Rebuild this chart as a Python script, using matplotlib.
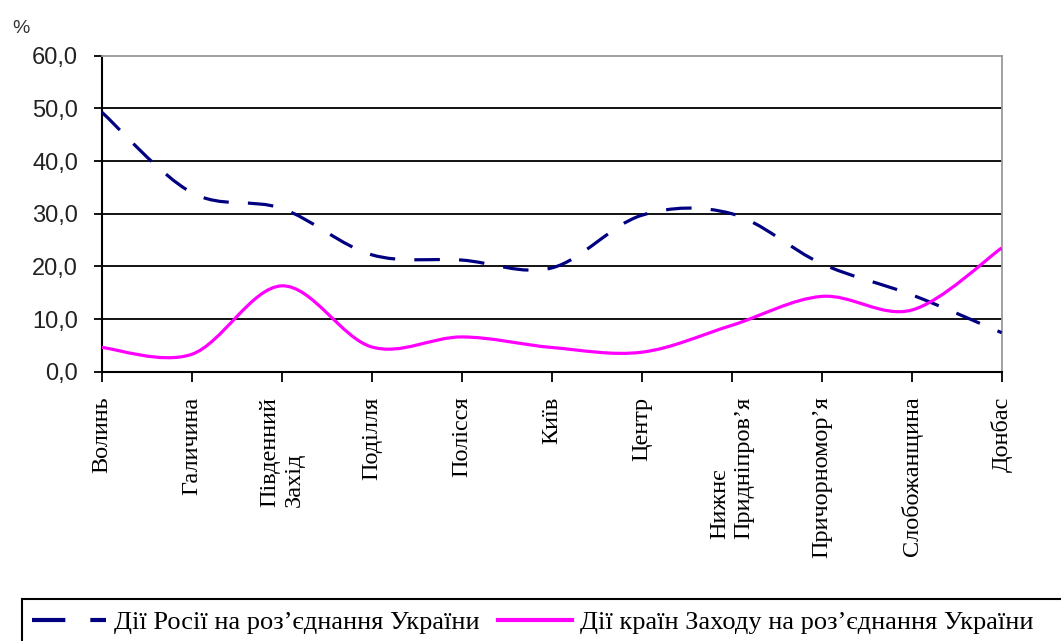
import matplotlib
matplotlib.use("Agg")
import matplotlib.pyplot as plt
import numpy as np
from matplotlib.path import Path
from matplotlib.patches import PathPatch, Rectangle
from matplotlib.lines import Line2D

regions = ["Волинь", "Галичина", "Південний\nЗахід", "Поділля", "Полісся", "Київ",
           "Центр", "Нижнє\nПридніпров’я", "Причорномор’я", "Слобожанщина", "Донбас"]
russia = [49.3, 34.0, 31.0, 22.2, 21.2, 19.7, 29.7, 30.0, 20.5, 14.6, 7.4]
west = [4.6, 3.3, 16.3, 4.7, 6.6, 4.6, 3.7, 8.8, 14.3, 11.7, 23.5]
yticks = [0, 10, 20, 30, 40, 50, 60]

label_russia = "Дії Росії на роз’єднання України"
label_west = "Дії країн Заходу на роз’єднання України"

W, H = 1061, 641


def smooth_path(x, y):
    # Excel-style smoothed line: cubic Bezier segments (Catmull-Rom control points)
    pts = np.column_stack([x, y]).astype(float)
    n = len(pts)
    verts = [pts[0]]
    codes = [Path.MOVETO]
    for i in range(n - 1):
        p0 = pts[i - 1] if i > 0 else pts[i]
        p1 = pts[i]
        p2 = pts[i + 1]
        p3 = pts[i + 2] if i + 2 < n else pts[i + 1]
        c1 = p1 + (p2 - p0) / 6.0
        c2 = p2 - (p3 - p1) / 6.0
        verts += [c1, c2, p2]
        codes += [Path.CURVE4] * 3
    return Path(verts, codes)


fig = plt.figure(figsize=(W / 100, H / 100), dpi=100)
ax = fig.add_axes([101.7 / W, 1 - 371.7 / H, 900 / W, 316 / H])

x = np.arange(len(regions))

ax.add_patch(PathPatch(smooth_path(x, russia), fill=False, edgecolor="#000080",
                       linewidth=2.3, linestyle=(0, (8, 6)), capstyle="butt", zorder=3))
ax.add_patch(PathPatch(smooth_path(x, west), fill=False, edgecolor="#ff00ff",
                       linewidth=2.3, zorder=3))

ax.set_xlim(0, len(regions) - 1)
ax.set_ylim(0, 60)
ax.set_yticks(yticks)
ax.set_yticklabels([f"{v:.1f}".replace(".", ",") for v in yticks],
                   fontfamily="Liberation Sans", fontsize=17, color="#222222")
ax.set_xticks(x)
ax.set_xticklabels(regions, rotation=90, fontfamily="Liberation Serif", fontsize=17.5,
                   va="top", ha="center", multialignment="left")

for g in yticks[1:-1]:
    ax.axhline(g, color="black", linewidth=1.3, zorder=1)

ax.spines["left"].set_linewidth(1.5)
ax.spines["bottom"].set_linewidth(1.5)
ax.spines["top"].set_color("#9a9a9a")
ax.spines["right"].set_color("#9a9a9a")
ax.spines["top"].set_linewidth(1.3)
ax.spines["right"].set_linewidth(1.3)
ax.tick_params(axis="y", direction="out", length=6, width=1.3, pad=11)
ax.tick_params(axis="x", direction="out", length=7, width=1.3, pad=11)

fig.text(12 / W, 1 - 33 / H, "%", fontfamily="Liberation Sans", fontsize=14, color="#333333")

# legend box (runs off the figure edge as in the source)
fig.add_artist(Rectangle((22 / W, -0.1), 1.2, 0.1 + (1 - 599 / H), transform=fig.transFigure,
                         fill=False, edgecolor="black", linewidth=1.5, clip_on=False))
handles = [Line2D([], [], color="#000080", linewidth=3, linestyle=(0, (8, 6))),
           Line2D([], [], color="#ff00ff", linewidth=3)]
fig.legend(handles, [label_russia, label_west], ncol=2, frameon=False,
           loc="lower left", bbox_to_anchor=(14 / W, -0.018),
           prop={"family": "Liberation Serif", "size": 19},
           handlelength=2.8, handletextpad=0.3, columnspacing=0.7, borderpad=0.2)

fig.savefig("out.png", dpi=100)
